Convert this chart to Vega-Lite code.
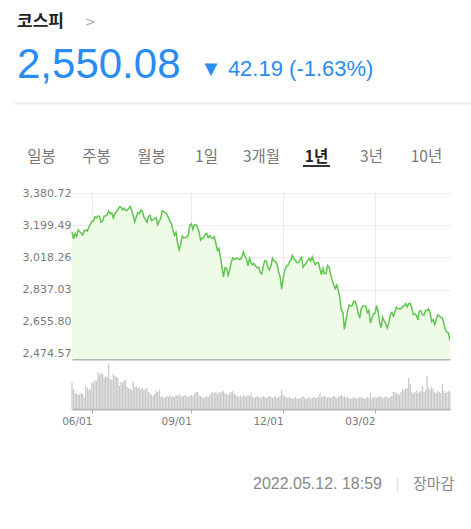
{
  "$schema": "https://vega.github.io/schema/vega-lite/v6.json",
  "padding": 0,
  "background": "white",
  "bounds": "flush",
  "spacing": 0,
  "config": {"view": {"stroke": null}},
  "datasets": {
    "kospi": [
      {"date":"2021-05-12","close":3161.66,"volume":1300},
      {"date":"2021-05-13","close":3122.11,"volume":1000},
      {"date":"2021-05-14","close":3153.32,"volume":800},
      {"date":"2021-05-17","close":3134.52,"volume":750},
      {"date":"2021-05-18","close":3173.05,"volume":700},
      {"date":"2021-05-20","close":3162.28,"volume":750},
      {"date":"2021-05-21","close":3156.42,"volume":800},
      {"date":"2021-05-24","close":3144.30,"volume":750},
      {"date":"2021-05-25","close":3168.43,"volume":550},
      {"date":"2021-05-26","close":3171.27,"volume":1150},
      {"date":"2021-05-27","close":3165.51,"volume":1050},
      {"date":"2021-05-28","close":3188.73,"volume":950},
      {"date":"2021-05-31","close":3203.92,"volume":1000},
      {"date":"2021-06-01","close":3221.87,"volume":1350},
      {"date":"2021-06-02","close":3223.90,"volume":1300},
      {"date":"2021-06-03","close":3247.43,"volume":1450},
      {"date":"2021-06-04","close":3240.08,"volume":1400},
      {"date":"2021-06-07","close":3252.12,"volume":1850},
      {"date":"2021-06-08","close":3247.83,"volume":1700},
      {"date":"2021-06-09","close":3216.18,"volume":1800},
      {"date":"2021-06-10","close":3224.24,"volume":1750},
      {"date":"2021-06-11","close":3249.32,"volume":1550},
      {"date":"2021-06-14","close":3252.13,"volume":1650},
      {"date":"2021-06-15","close":3258.63,"volume":1600},
      {"date":"2021-06-16","close":3278.68,"volume":2250},
      {"date":"2021-06-17","close":3264.96,"volume":1500},
      {"date":"2021-06-18","close":3267.93,"volume":1450},
      {"date":"2021-06-21","close":3240.79,"volume":1750},
      {"date":"2021-06-22","close":3263.88,"volume":1650},
      {"date":"2021-06-23","close":3276.19,"volume":1600},
      {"date":"2021-06-24","close":3286.10,"volume":1550},
      {"date":"2021-06-25","close":3302.84,"volume":1150},
      {"date":"2021-06-28","close":3301.89,"volume":1350},
      {"date":"2021-06-29","close":3286.68,"volume":1300},
      {"date":"2021-06-30","close":3296.68,"volume":1400},
      {"date":"2021-07-01","close":3282.06,"volume":1450},
      {"date":"2021-07-02","close":3281.78,"volume":1100},
      {"date":"2021-07-05","close":3293.21,"volume":1050},
      {"date":"2021-07-06","close":3305.21,"volume":1000},
      {"date":"2021-07-07","close":3285.34,"volume":950},
      {"date":"2021-07-08","close":3252.68,"volume":1400},
      {"date":"2021-07-09","close":3217.95,"volume":1100},
      {"date":"2021-07-12","close":3246.47,"volume":1150},
      {"date":"2021-07-13","close":3271.38,"volume":1050},
      {"date":"2021-07-14","close":3264.81,"volume":1100},
      {"date":"2021-07-15","close":3286.22,"volume":1000},
      {"date":"2021-07-16","close":3276.91,"volume":1050},
      {"date":"2021-07-19","close":3244.04,"volume":950},
      {"date":"2021-07-20","close":3232.70,"volume":1000},
      {"date":"2021-07-21","close":3215.97,"volume":1050},
      {"date":"2021-07-22","close":3250.21,"volume":850},
      {"date":"2021-07-23","close":3254.42,"volume":800},
      {"date":"2021-07-26","close":3224.95,"volume":700},
      {"date":"2021-07-27","close":3232.11,"volume":650},
      {"date":"2021-07-28","close":3236.86,"volume":750},
      {"date":"2021-07-29","close":3242.65,"volume":900},
      {"date":"2021-07-30","close":3202.32,"volume":850},
      {"date":"2021-08-02","close":3223.04,"volume":950},
      {"date":"2021-08-03","close":3237.14,"volume":600},
      {"date":"2021-08-04","close":3280.38,"volume":650},
      {"date":"2021-08-05","close":3276.13,"volume":550},
      {"date":"2021-08-06","close":3270.36,"volume":600},
      {"date":"2021-08-09","close":3260.42,"volume":650},
      {"date":"2021-08-10","close":3243.19,"volume":600},
      {"date":"2021-08-11","close":3220.62,"volume":700},
      {"date":"2021-08-12","close":3208.38,"volume":600},
      {"date":"2021-08-13","close":3171.29,"volume":650},
      {"date":"2021-08-17","close":3143.09,"volume":600},
      {"date":"2021-08-18","close":3158.93,"volume":700},
      {"date":"2021-08-19","close":3097.83,"volume":650},
      {"date":"2021-08-20","close":3060.51,"volume":750},
      {"date":"2021-08-23","close":3090.21,"volume":650},
      {"date":"2021-08-24","close":3138.30,"volume":600},
      {"date":"2021-08-25","close":3129.10,"volume":650},
      {"date":"2021-08-26","close":3128.53,"volume":700},
      {"date":"2021-08-27","close":3133.90,"volume":650},
      {"date":"2021-08-30","close":3144.19,"volume":600},
      {"date":"2021-08-31","close":3199.27,"volume":650},
      {"date":"2021-09-01","close":3207.02,"volume":700},
      {"date":"2021-09-02","close":3175.85,"volume":650},
      {"date":"2021-09-03","close":3201.06,"volume":750},
      {"date":"2021-09-06","close":3203.33,"volume":850},
      {"date":"2021-09-07","close":3187.42,"volume":850},
      {"date":"2021-09-08","close":3162.99,"volume":700},
      {"date":"2021-09-09","close":3114.70,"volume":650},
      {"date":"2021-09-10","close":3125.76,"volume":600},
      {"date":"2021-09-13","close":3127.86,"volume":550},
      {"date":"2021-09-14","close":3148.83,"volume":600},
      {"date":"2021-09-15","close":3153.40,"volume":650},
      {"date":"2021-09-16","close":3130.09,"volume":600},
      {"date":"2021-09-17","close":3140.51,"volume":700},
      {"date":"2021-09-23","close":3127.58,"volume":800},
      {"date":"2021-09-24","close":3125.24,"volume":850},
      {"date":"2021-09-27","close":3133.64,"volume":800},
      {"date":"2021-09-28","close":3097.92,"volume":850},
      {"date":"2021-09-29","close":3060.27,"volume":750},
      {"date":"2021-09-30","close":3068.82,"volume":850},
      {"date":"2021-10-01","close":3019.18,"volume":800},
      {"date":"2021-10-05","close":2962.17,"volume":850},
      {"date":"2021-10-06","close":2908.31,"volume":900},
      {"date":"2021-10-07","close":2959.46,"volume":800},
      {"date":"2021-10-08","close":2956.30,"volume":750},
      {"date":"2021-10-12","close":2916.38,"volume":700},
      {"date":"2021-10-13","close":2944.41,"volume":800},
      {"date":"2021-10-14","close":2988.64,"volume":850},
      {"date":"2021-10-15","close":3015.06,"volume":900},
      {"date":"2021-10-18","close":3006.68,"volume":750},
      {"date":"2021-10-19","close":3013.13,"volume":700},
      {"date":"2021-10-20","close":3013.25,"volume":650},
      {"date":"2021-10-21","close":3007.33,"volume":600},
      {"date":"2021-10-22","close":3006.16,"volume":650},
      {"date":"2021-10-25","close":3020.54,"volume":600},
      {"date":"2021-10-26","close":3049.08,"volume":700},
      {"date":"2021-10-27","close":3025.49,"volume":650},
      {"date":"2021-10-28","close":3009.55,"volume":600},
      {"date":"2021-10-29","close":2970.68,"volume":700},
      {"date":"2021-11-01","close":3013.49,"volume":650},
      {"date":"2021-11-02","close":2989.39,"volume":750},
      {"date":"2021-11-03","close":2975.71,"volume":600},
      {"date":"2021-11-04","close":2983.22,"volume":550},
      {"date":"2021-11-05","close":2969.27,"volume":600},
      {"date":"2021-11-08","close":2960.20,"volume":650},
      {"date":"2021-11-09","close":2963.20,"volume":600},
      {"date":"2021-11-10","close":2930.17,"volume":550},
      {"date":"2021-11-11","close":2924.92,"volume":600},
      {"date":"2021-11-12","close":2968.80,"volume":650},
      {"date":"2021-11-15","close":2999.52,"volume":600},
      {"date":"2021-11-16","close":2997.21,"volume":550},
      {"date":"2021-11-17","close":2962.42,"volume":600},
      {"date":"2021-11-18","close":2947.38,"volume":650},
      {"date":"2021-11-19","close":2971.02,"volume":600},
      {"date":"2021-11-22","close":3013.25,"volume":550},
      {"date":"2021-11-23","close":2997.33,"volume":600},
      {"date":"2021-11-24","close":2994.29,"volume":650},
      {"date":"2021-11-25","close":2980.27,"volume":550},
      {"date":"2021-11-26","close":2936.44,"volume":600},
      {"date":"2021-11-29","close":2909.32,"volume":650},
      {"date":"2021-11-30","close":2839.01,"volume":950},
      {"date":"2021-12-01","close":2899.72,"volume":700},
      {"date":"2021-12-02","close":2945.27,"volume":650},
      {"date":"2021-12-03","close":2968.33,"volume":600},
      {"date":"2021-12-06","close":2973.25,"volume":550},
      {"date":"2021-12-07","close":2991.72,"volume":600},
      {"date":"2021-12-08","close":3001.80,"volume":550},
      {"date":"2021-12-09","close":3029.57,"volume":500},
      {"date":"2021-12-10","close":3010.23,"volume":550},
      {"date":"2021-12-13","close":3001.66,"volume":600},
      {"date":"2021-12-14","close":2987.95,"volume":550},
      {"date":"2021-12-15","close":2989.39,"volume":500},
      {"date":"2021-12-16","close":3006.41,"volume":550},
      {"date":"2021-12-17","close":3017.73,"volume":600},
      {"date":"2021-12-20","close":2963.00,"volume":650},
      {"date":"2021-12-21","close":2975.03,"volume":550},
      {"date":"2021-12-22","close":2984.48,"volume":500},
      {"date":"2021-12-23","close":2998.17,"volume":550},
      {"date":"2021-12-24","close":3012.43,"volume":600},
      {"date":"2021-12-27","close":2999.55,"volume":500},
      {"date":"2021-12-28","close":3020.24,"volume":550},
      {"date":"2021-12-29","close":2993.29,"volume":600},
      {"date":"2021-12-30","close":2977.65,"volume":550},
      {"date":"2022-01-03","close":2988.77,"volume":550},
      {"date":"2022-01-04","close":2989.24,"volume":600},
      {"date":"2022-01-05","close":2953.97,"volume":800},
      {"date":"2022-01-06","close":2920.53,"volume":600},
      {"date":"2022-01-07","close":2954.89,"volume":650},
      {"date":"2022-01-10","close":2926.72,"volume":650},
      {"date":"2022-01-11","close":2927.38,"volume":600},
      {"date":"2022-01-12","close":2972.48,"volume":550},
      {"date":"2022-01-13","close":2962.09,"volume":600},
      {"date":"2022-01-14","close":2921.92,"volume":550},
      {"date":"2022-01-17","close":2890.10,"volume":600},
      {"date":"2022-01-18","close":2864.24,"volume":650},
      {"date":"2022-01-19","close":2842.28,"volume":600},
      {"date":"2022-01-20","close":2862.68,"volume":550},
      {"date":"2022-01-21","close":2834.29,"volume":600},
      {"date":"2022-01-24","close":2792.00,"volume":650},
      {"date":"2022-01-25","close":2720.39,"volume":700},
      {"date":"2022-01-26","close":2709.24,"volume":600},
      {"date":"2022-01-27","close":2614.49,"volume":650},
      {"date":"2022-01-28","close":2663.34,"volume":550},
      {"date":"2022-02-03","close":2707.82,"volume":600},
      {"date":"2022-02-04","close":2750.26,"volume":550},
      {"date":"2022-02-07","close":2745.06,"volume":500},
      {"date":"2022-02-08","close":2746.47,"volume":550},
      {"date":"2022-02-09","close":2768.85,"volume":600},
      {"date":"2022-02-10","close":2771.93,"volume":550},
      {"date":"2022-02-11","close":2747.71,"volume":500},
      {"date":"2022-02-14","close":2704.48,"volume":550},
      {"date":"2022-02-15","close":2676.54,"volume":600},
      {"date":"2022-02-16","close":2729.68,"volume":600},
      {"date":"2022-02-17","close":2744.52,"volume":550},
      {"date":"2022-02-18","close":2744.09,"volume":500},
      {"date":"2022-02-21","close":2743.80,"volume":550},
      {"date":"2022-02-22","close":2706.79,"volume":600},
      {"date":"2022-02-23","close":2719.53,"volume":550},
      {"date":"2022-02-24","close":2648.80,"volume":800},
      {"date":"2022-02-25","close":2676.76,"volume":550},
      {"date":"2022-02-28","close":2699.18,"volume":600},
      {"date":"2022-03-02","close":2703.52,"volume":600},
      {"date":"2022-03-03","close":2747.08,"volume":550},
      {"date":"2022-03-04","close":2713.43,"volume":600},
      {"date":"2022-03-07","close":2651.31,"volume":650},
      {"date":"2022-03-08","close":2622.40,"volume":600},
      {"date":"2022-03-10","close":2680.32,"volume":550},
      {"date":"2022-03-11","close":2661.28,"volume":600},
      {"date":"2022-03-14","close":2645.65,"volume":650},
      {"date":"2022-03-15","close":2621.53,"volume":600},
      {"date":"2022-03-16","close":2647.38,"volume":550},
      {"date":"2022-03-17","close":2694.51,"volume":600},
      {"date":"2022-03-18","close":2707.62,"volume":650},
      {"date":"2022-03-21","close":2686.05,"volume":850},
      {"date":"2022-03-22","close":2713.35,"volume":850},
      {"date":"2022-03-23","close":2736.91,"volume":800},
      {"date":"2022-03-24","close":2729.98,"volume":750},
      {"date":"2022-03-25","close":2729.56,"volume":700},
      {"date":"2022-03-28","close":2729.36,"volume":850},
      {"date":"2022-03-29","close":2741.07,"volume":1000},
      {"date":"2022-03-30","close":2746.74,"volume":950},
      {"date":"2022-03-31","close":2757.65,"volume":1000},
      {"date":"2022-04-01","close":2739.85,"volume":1050},
      {"date":"2022-04-04","close":2757.90,"volume":1550},
      {"date":"2022-04-05","close":2759.20,"volume":1250},
      {"date":"2022-04-06","close":2735.03,"volume":850},
      {"date":"2022-04-07","close":2695.86,"volume":800},
      {"date":"2022-04-08","close":2700.39,"volume":850},
      {"date":"2022-04-11","close":2693.10,"volume":900},
      {"date":"2022-04-12","close":2666.76,"volume":800},
      {"date":"2022-04-13","close":2716.49,"volume":850},
      {"date":"2022-04-14","close":2716.71,"volume":900},
      {"date":"2022-04-15","close":2696.06,"volume":1150},
      {"date":"2022-04-18","close":2693.21,"volume":850},
      {"date":"2022-04-19","close":2718.69,"volume":950},
      {"date":"2022-04-20","close":2718.89,"volume":1650},
      {"date":"2022-04-21","close":2728.21,"volume":1050},
      {"date":"2022-04-22","close":2704.71,"volume":950},
      {"date":"2022-04-25","close":2657.13,"volume":1100},
      {"date":"2022-04-26","close":2668.31,"volume":1000},
      {"date":"2022-04-27","close":2639.06,"volume":850},
      {"date":"2022-04-28","close":2667.49,"volume":800},
      {"date":"2022-04-29","close":2695.05,"volume":900},
      {"date":"2022-05-02","close":2687.45,"volume":850},
      {"date":"2022-05-03","close":2680.46,"volume":800},
      {"date":"2022-05-04","close":2677.57,"volume":1250},
      {"date":"2022-05-06","close":2644.51,"volume":900},
      {"date":"2022-05-09","close":2610.81,"volume":800},
      {"date":"2022-05-10","close":2596.56,"volume":850},
      {"date":"2022-05-11","close":2592.27,"volume":900},
      {"date":"2022-05-12","close":2550.08,"volume":850}
    ]
  },
  "vconcat": [
    {
      "width": 471,
      "height": 44,
      "data": {"values": [{"part": "name", "label": "코스피"}, {"part": "more", "label": ">"}]},
      "encoding": {
        "x": {"field": "part", "type": "nominal", "scale": {"type": "point", "domain": ["name", "more"], "range": [17, 85], "padding": 0}, "axis": null},
        "text": {"field": "label"}
      },
      "layer": [
        {"transform": [{"filter": "datum.part === 'name'"}], "mark": {"type": "text", "align": "left", "baseline": "middle", "font": "Noto Sans CJK KR", "fontSize": 17, "fontWeight": "bold", "color": "#222222"}},
        {"transform": [{"filter": "datum.part === 'more'"}], "mark": {"type": "text", "align": "left", "baseline": "middle", "font": "DejaVu Sans", "fontSize": 13, "color": "#aaaaaa"}}
      ]
    },
    {
      "width": 471,
      "height": 42,
      "data": {"values": [{"part": "price", "label": "2,550.08"}, {"part": "change", "label": "▼ 42.19 (-1.63%)"}]},
      "encoding": {
        "x": {"field": "part", "type": "nominal", "scale": {"type": "point", "domain": ["price", "change"], "range": [17, 200], "padding": 0}, "axis": null},
        "text": {"field": "label"}
      },
      "layer": [
        {"transform": [{"filter": "datum.part === 'price'"}], "mark": {"type": "text", "align": "left", "baseline": "middle", "font": "Liberation Sans", "fontSize": 42, "color": "#2a8cf0"}},
        {"transform": [{"filter": "datum.part === 'change'"}], "mark": {"type": "text", "align": "left", "baseline": "middle", "dy": 4, "font": "Liberation Sans", "fontSize": 22, "color": "#2a8cf0"}}
      ]
    },
    {
      "width": 471,
      "height": 107,
      "data": {"values": [
        {"tab": "일봉", "active": false},
        {"tab": "주봉", "active": false},
        {"tab": "월봉", "active": false},
        {"tab": "1일", "active": false},
        {"tab": "3개월", "active": false},
        {"tab": "1년", "active": true},
        {"tab": "3년", "active": false},
        {"tab": "10년", "active": false}
      ]},
      "encoding": {
        "x": {
          "field": "tab", "type": "nominal",
          "scale": {"type": "band", "domain": ["일봉", "주봉", "월봉", "1일", "3개월", "1년", "3년", "10년"], "range": [14, 471], "paddingInner": 0, "paddingOuter": 0.1545, "align": 0},
          "axis": {"orient": "top", "offset": -17, "domain": true, "domainColor": "#eeeeee", "domainWidth": 2, "ticks": false, "labels": false, "grid": false, "title": null}
        }
      },
      "layer": [
        {"transform": [{"filter": "!datum.active"}], "mark": {"type": "text", "align": "center", "baseline": "middle", "dy": 17.5, "font": "Noto Sans CJK KR", "fontSize": 15.5, "color": "#777777"}, "encoding": {"text": {"field": "tab"}}},
        {"transform": [{"filter": "datum.active"}], "mark": {"type": "text", "align": "center", "baseline": "middle", "dy": 17.5, "font": "Noto Sans CJK KR", "fontSize": 15.5, "fontWeight": "bold", "color": "#222222"}, "encoding": {"text": {"field": "tab"}}},
        {"transform": [{"filter": "datum.active"}], "mark": {"type": "tick", "orient": "horizontal", "thickness": 2, "size": 27, "yOffset": 26.5, "color": "#333333", "opacity": 1}}
      ]
    },
    {
      "width": 450,
      "height": 166,
      "data": {"name": "kospi"},
      "encoding": {
        "x": {
          "field": "date", "type": "ordinal",
          "scale": {"type": "point", "range": [72, 450], "padding": 0},
          "axis": {"values": ["2021-06-01", "2021-09-01", "2021-12-01", "2022-03-02"], "grid": true, "gridColor": "#e9e9ef", "gridWidth": 1, "labels": false, "ticks": false, "domain": true, "domainColor": "#b5b5b5", "domainWidth": 2, "title": null}
        },
        "y": {
          "field": "close", "type": "quantitative",
          "scale": {"domain": [2446, 3380.72], "nice": false, "zero": false},
          "axis": {"values": [2474.57, 2655.80, 3018.26, 2837.03, 3199.49, 3380.72], "format": ",.2f", "orient": "left", "labelAlign": "left", "labelBaseline": "middle", "labelPadding": -22, "tickSize": 0, "ticks": false, "domain": false, "grid": true, "gridColor": "#ececec", "gridWidth": 1, "labelFont": "DejaVu Sans", "labelFontSize": 11, "labelColor": "#7a7a7a", "title": null}
        }
      },
      "layer": [
        {"mark": {"type": "area", "color": "#edfbe7", "line": false, "clip": true}},
        {"mark": {"type": "line", "color": "#62c451", "strokeWidth": 1.5, "clip": true}}
      ]
    },
    {
      "width": 450,
      "height": 50,
      "data": {"name": "kospi"},
      "mark": {"type": "bar", "color": "#c6c6c6", "size": 1.2},
      "encoding": {
        "x": {
          "field": "date", "type": "ordinal",
          "scale": {"type": "point", "range": [72, 450], "padding": 0},
          "axis": {"values": ["2021-06-01", "2021-09-01", "2021-12-01", "2022-03-02"], "labelExpr": "substring(datum.value, 5, 7) + '/' + substring(datum.value, 8, 10)", "labelAngle": 0, "labelAlign": "right", "labelBaseline": "top", "labelPadding": 3, "ticks": true, "tickSize": 4, "tickColor": "#aaaaaa", "domain": true, "domainColor": "#b5b5b5", "domainWidth": 2, "grid": false, "labelFont": "DejaVu Sans", "labelFontSize": 10.5, "labelColor": "#7a7a7a", "title": null}
        },
        "y": {
          "field": "volume", "type": "quantitative",
          "scale": {"domain": [0, 2500], "nice": false},
          "axis": null
        }
      }
    },
    {
      "width": 471,
      "height": 120,
      "data": {"values": [{"part": "time", "label": "2022.05.12. 18:59"}, {"part": "sep", "label": "|"}, {"part": "status", "label": "장마감"}]},
      "encoding": {
        "x": {"field": "part", "type": "nominal", "scale": {"type": "point", "domain": ["time", "sep", "status"], "range": [382, 413], "padding": 0}, "axis": null},
        "text": {"field": "label"}
      },
      "layer": [
        {"transform": [{"filter": "datum.part === 'time'"}], "mark": {"type": "text", "align": "right", "baseline": "middle", "dy": 15, "font": "Liberation Sans", "fontSize": 16, "color": "#888888"}},
        {"transform": [{"filter": "datum.part === 'sep'"}], "mark": {"type": "text", "align": "center", "baseline": "middle", "dy": 15, "font": "Liberation Sans", "fontSize": 15, "color": "#dddddd"}},
        {"transform": [{"filter": "datum.part === 'status'"}], "mark": {"type": "text", "align": "left", "baseline": "middle", "dy": 15, "font": "Noto Sans CJK KR", "fontSize": 15, "color": "#888888"}}
      ]
    }
  ]
}
